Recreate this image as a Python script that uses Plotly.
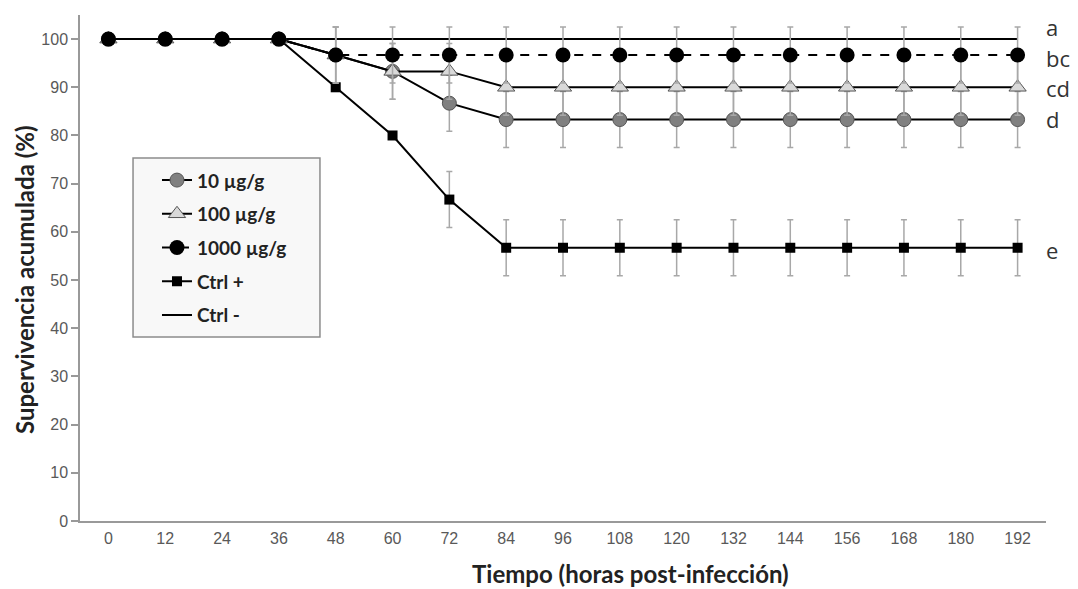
import plotly.graph_objects as go

# Sampling times (hours post-infection)
horas = [0, 12, 24, 36, 48, 60, 72, 84, 96, 108, 120, 132, 144, 156, 168, 180, 192]

# Cumulative survival (%) per treatment
s_10 = [100, 100, 100, 100, 96.7, 93.3, 86.7, 83.3, 83.3, 83.3, 83.3, 83.3, 83.3, 83.3, 83.3, 83.3, 83.3]
s_100 = [100, 100, 100, 100, 96.7, 93.3, 93.3, 90, 90, 90, 90, 90, 90, 90, 90, 90, 90]
s_1000 = [100, 100, 100, 100, 96.7, 96.7, 96.7, 96.7, 96.7, 96.7, 96.7, 96.7, 96.7, 96.7, 96.7, 96.7, 96.7]
s_pos = [100, 100, 100, 100, 90, 80, 66.7, 56.7, 56.7, 56.7, 56.7, 56.7, 56.7, 56.7, 56.7, 56.7, 56.7]
s_neg = [100] * 17

# Standard deviation for each point
e_10 = [0, 0, 0, 0, 5.8, 5.8, 5.8, 5.8, 5.8, 5.8, 5.8, 5.8, 5.8, 5.8, 5.8, 5.8, 5.8]
e_100 = [0, 0, 0, 0, 5.8, 5.8, 5.8, 5.8, 5.8, 5.8, 5.8, 5.8, 5.8, 5.8, 5.8, 5.8, 5.8]
e_1000 = [0, 0, 0, 0, 5.8, 5.8, 5.8, 5.8, 5.8, 5.8, 5.8, 5.8, 5.8, 5.8, 5.8, 5.8, 5.8]
e_pos = [0, 0, 0, 0, 0, 0, 5.8, 5.8, 5.8, 5.8, 5.8, 5.8, 5.8, 5.8, 5.8, 5.8, 5.8]

# Significance letters at the end of each curve
letras = ["a", "bc", "cd", "d", "e"]
letras_y = [102.6, 96.1, 89.8, 83.5, 56.3]

ERR = dict(type="data", thickness=1.5, width=3, color="#a8a8a8")
TITLE_FONT = "Lato, Carlito, sans-serif"
TICK_FONT = "Liberation Sans, Arial, sans-serif"

fig = go.Figure()

fig.add_trace(go.Scatter(
    x=horas, y=s_neg, name="Ctrl -", mode="lines",
    line=dict(color="black", width=2), legendrank=5, legendgroup="g5"))

fig.add_trace(go.Scatter(
    x=horas, y=s_pos, name="Ctrl +", mode="lines+markers",
    line=dict(color="black", width=2),
    marker=dict(symbol="square", size=10, color="black"),
    error_y=dict(array=e_pos, **ERR), legendrank=4, legendgroup="g4"))

fig.add_trace(go.Scatter(
    x=horas, y=s_10, name="10 µg/g", mode="lines+markers",
    line=dict(color="black", width=2),
    marker=dict(symbol="circle", size=14, color="#808080",
                line=dict(color="#555555", width=1)),
    error_y=dict(array=e_10, **ERR), legendrank=1, legendgroup="g1"))

fig.add_trace(go.Scatter(
    x=horas, y=s_100, name="100 µg/g", mode="lines+markers",
    line=dict(color="black", width=2),
    marker=dict(symbol="triangle-up", size=15, color="#d9d9d9",
                line=dict(color="#555555", width=1)),
    error_y=dict(array=e_100, **ERR), legendrank=2, legendgroup="g2"))

fig.add_trace(go.Scatter(
    x=horas, y=s_1000, name="1000 µg/g", mode="lines+markers",
    line=dict(color="black", width=2, dash="dash"),
    marker=dict(symbol="circle", size=15, color="black"),
    error_y=dict(array=e_1000, **ERR), legendrank=3, legendgroup="g3"))

for t, yv in zip(letras, letras_y):
    fig.add_annotation(x=1, y=yv, xref="paper", yref="y", text=t,
                       showarrow=False, xanchor="left", yanchor="middle",
                       xshift=-2, height=24,
                       font=dict(family="Open Sans, sans-serif",
                                 size=22, color="#333333"))

# Axis titles (positions given in pixels, converted below)
fig.add_annotation(x=0.570, y=573, xref="paper", yref="paper",
                   yanchor="middle", xanchor="center", showarrow=False,
                   text="Tiempo (horas post-infección)",
                   font=dict(family=TITLE_FONT, size=24, color="#222222",
                             weight="bold"))
fig.add_annotation(x=24, y=280, xref="paper", yref="paper",
                   yanchor="middle", xanchor="center", showarrow=False,
                   textangle=-90, text="Supervivencia acumulada (%)",
                   font=dict(family=TITLE_FONT, size=24, color="#222222",
                             weight="bold"))

# Legend frame
fig.add_shape(type="rect", xref="paper", yref="paper",
              x0=0.0549, x1=0.2484, y0=0.3636, y1=0.7174,
              fillcolor="#f8f8f8", line=dict(color="#8c8c8c", width=1.5),
              layer="below")

PL, PR, PT, PB = 80, 1046, 15, 521
for ann in fig.layout.annotations[-2:]:
    if ann.textangle == -90:
        ann.x = (ann.x - PL) / (PR - PL)
    ann.y = (PB - ann.y) / (PB - PT)

fig.update_layout(
    width=1078, height=589,
    margin=dict(l=PL, r=1078 - PR, t=PT, b=589 - PB),
    plot_bgcolor="white", paper_bgcolor="white",
    showlegend=True,
    legend=dict(
        x=0.0797, y=0.711, xanchor="left", yanchor="top",
        bgcolor="rgba(0,0,0,0)", borderwidth=0,
        font=dict(family=TITLE_FONT, size=19, color="#222222", weight="bold"),
        traceorder="grouped", tracegroupgap=6, itemwidth=30,
    ),
    xaxis=dict(
        range=[-6, 198], tickvals=horas, ticktext=[str(h) for h in horas],
        showgrid=False, zeroline=False, showline=True,
        linecolor="#999999", linewidth=1.5, ticks="",
        ticklabelstandoff=2,
        tickfont=dict(family=TICK_FONT, size=16, color="#595959"),
    ),
    yaxis=dict(
        range=[0, 105], tickvals=list(range(0, 101, 10)),
        showgrid=False, zeroline=False, showline=True,
        linecolor="#999999", linewidth=1.5,
        ticks="outside", ticklen=7, tickcolor="#999999", tickwidth=1.5,
        tickfont=dict(family=TICK_FONT, size=16, color="#595959"),
    ),
)

fig.write_html("out.html")
